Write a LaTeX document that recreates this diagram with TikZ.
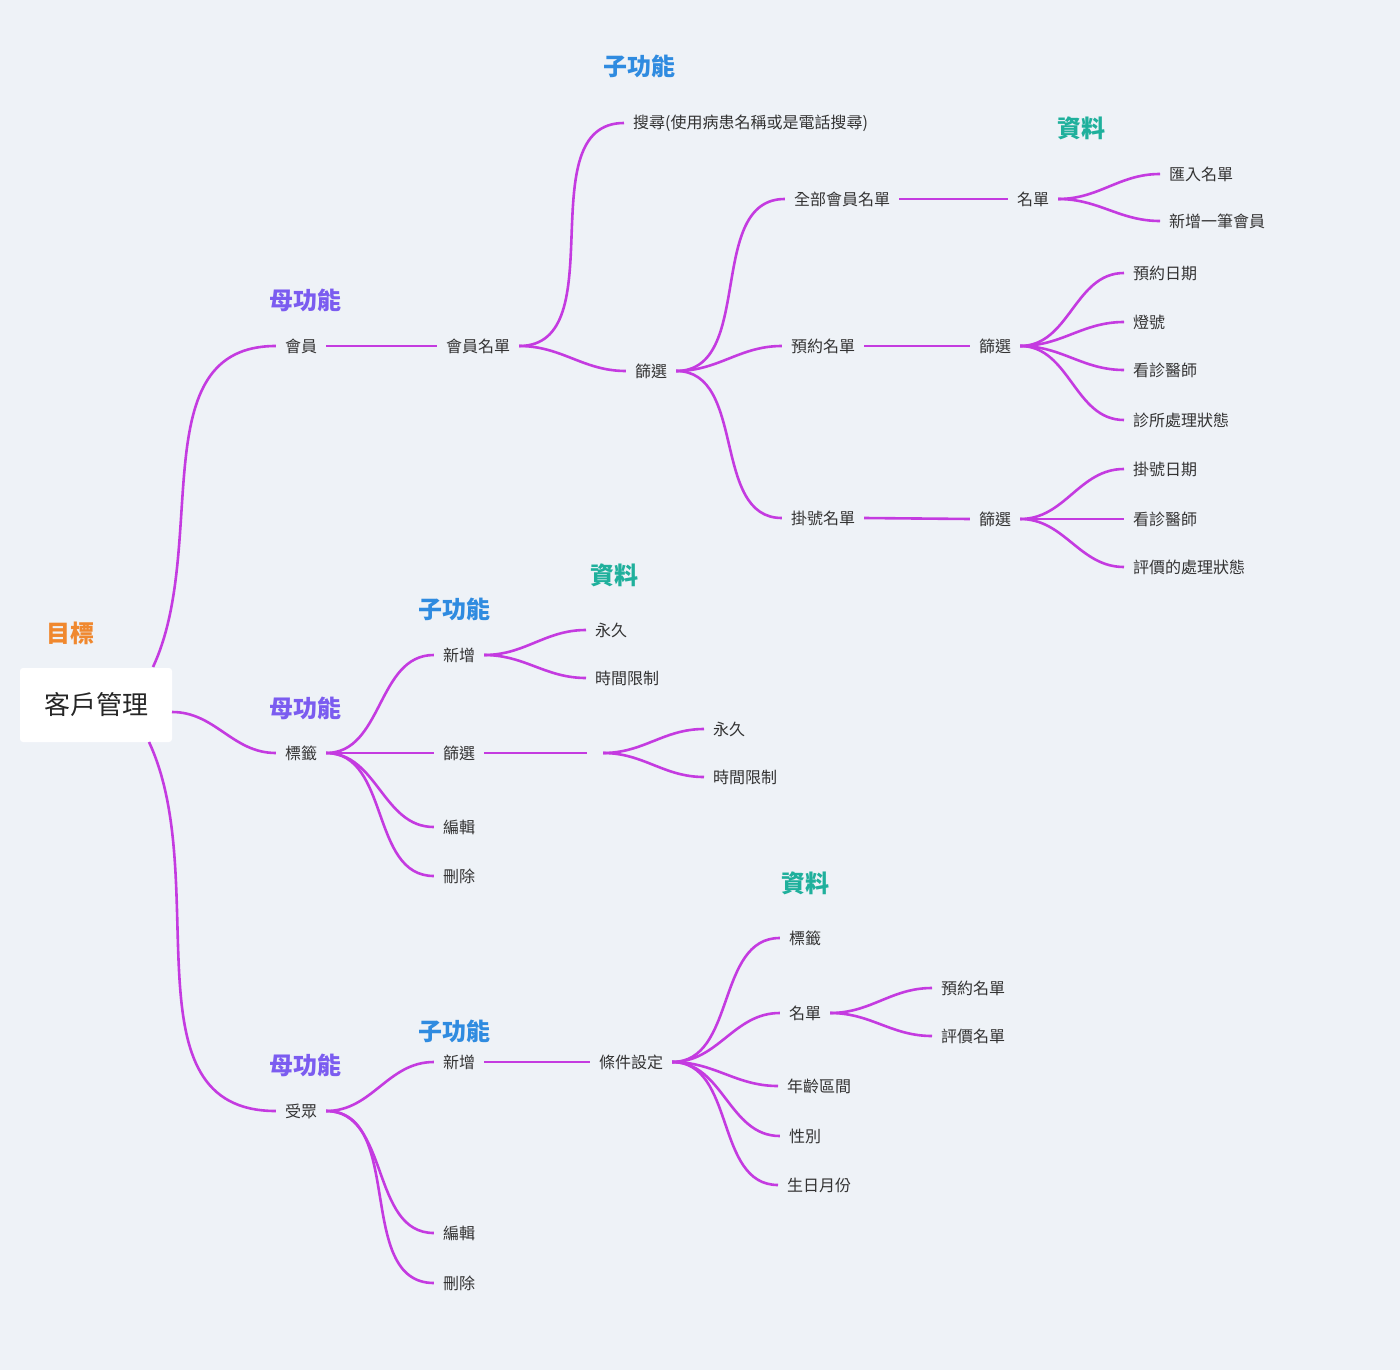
\documentclass[tikz,border=0pt]{standalone}
\usepackage{fontspec}
\setmainfont{Noto Sans CJK TC}
\begin{document}
\definecolor{bg}{HTML}{EEF2F7}
\definecolor{ln}{HTML}{C43BE0}
\definecolor{mom}{HTML}{7B5CF0}
\definecolor{sub}{HTML}{2F8BE0}
\definecolor{dat}{HTML}{1FB09C}
\definecolor{goal}{HTML}{F0882E}
\begin{tikzpicture}[x=1pt,y=-1pt,
 it/.style={inner xsep=9pt,inner ysep=2pt,font=\fontsize{16}{18}\selectfont,text=black!80},
 hd/.style={font=\fontsize{24}{26}\selectfont\bfseries},
 e/.style={draw=ln,line width=2.6pt,out=0,in=180},
 s/.style={draw=ln,line width=2.6pt}]
\fill[bg] (0,0) rectangle (1400,1370);
\node[fill=white,rounded corners=3pt,minimum width=152pt,minimum height=74pt,font=\fontsize{26}{28}\selectfont,text=black!85] (root) at (96,705) {客戶管理};
\node[hd,text=goal] (goal) at (70,633) {目標};
% member branch
\node[hd,text=mom] (h1) at (305,300) {母功能};
\node[it] (m1) at (301,346) {會員};
\node[it] (m1a) at (478,346) {會員名單};
\node[hd,text=sub] (h2) at (639,66) {子功能};
\node[it,anchor=west] (srch) at (624,123) {搜尋(使用病患名稱或是電話搜尋)};
\node[it] (f1) at (651,371) {篩選};
\node[hd,text=dat] (h3) at (1081,128) {資料};
\node[it] (all) at (842,199) {全部會員名單};
\node[it] (nm) at (1033,199) {名單};
\node[it,anchor=west] (imp) at (1160,174) {匯入名單};
\node[it,anchor=west] (add1) at (1160,221) {新增一筆會員};
\node[it] (rsv) at (823,346) {預約名單};
\node[it] (f2) at (995,346) {篩選};
\node[it,anchor=west] (r1) at (1124,273) {預約日期};
\node[it,anchor=west] (r2) at (1124,322) {燈號};
\node[it,anchor=west] (r3) at (1124,370) {看診醫師};
\node[it,anchor=west] (r4) at (1124,420) {診所處理狀態};
\node[it] (reg) at (823,518) {掛號名單};
\node[it] (f3) at (995,519) {篩選};
\node[it,anchor=west] (g1) at (1124,469) {掛號日期};
\node[it,anchor=west] (g2) at (1124,519) {看診醫師};
\node[it,anchor=west] (g3) at (1124,567) {評價的處理狀態};
% tag branch
\node[hd,text=mom] (h4) at (305,708) {母功能};
\node[it] (m2) at (301,753) {標籤};
\node[hd,text=sub] (h5) at (454,609) {子功能};
\node[hd,text=dat] (h6) at (614,575) {資料};
\node[it] (t1) at (459,655) {新增};
\node[it,anchor=west] (t1a) at (586,630) {永久};
\node[it,anchor=west] (t1b) at (586,678) {時間限制};
\node[it] (t2) at (459,753) {篩選};
\node[inner sep=0pt,minimum width=16pt] (gap) at (595,753) {};
\node[it,anchor=west] (t2a) at (704,729) {永久};
\node[it,anchor=west] (t2b) at (704,777) {時間限制};
\node[it] (t3) at (459,827) {編輯};
\node[it] (t4) at (459,876) {刪除};
% audience branch
\node[hd,text=mom] (h7) at (305,1065) {母功能};
\node[it] (m3) at (301,1111) {受眾};
\node[hd,text=sub] (h8) at (454,1031) {子功能};
\node[it] (a1) at (459,1062) {新增};
\node[it] (cond) at (631,1062) {條件設定};
\node[hd,text=dat] (h9) at (805,883) {資料};
\node[it] (c1) at (805,938) {標籤};
\node[it] (c2) at (805,1013) {名單};
\node[it,anchor=west] (c2a) at (932,988) {預約名單};
\node[it,anchor=west] (c2b) at (932,1036) {評價名單};
\node[it,anchor=west] (c3) at (778,1086) {年齡區間};
\node[it] (c4) at (805,1136) {性別};
\node[it,anchor=west] (c5) at (778,1185) {生日月份};
\node[it] (a3) at (459,1233) {編輯};
\node[it] (a4) at (459,1283) {刪除};
% connectors
\coordinate (rA) at (153,667);
\coordinate (rB) at (172,712);
\coordinate (rC) at (149,742);
\draw[s] (rA) to[out=65,in=180] (m1.west);
\draw[e] (rB) to (m2.west);
\draw[s] (rC) to[out=-65,in=180] (m3.west);
\draw[s] (m1.east) -- (m1a.west);
\draw[e] (m1a.east) to (srch.west);
\draw[e] (m1a.east) to (f1.west);
\draw[e] (f1.east) to (all.west);
\draw[e] (f1.east) to (rsv.west);
\draw[e] (f1.east) to (reg.west);
\draw[s] (all.east) -- (nm.west);
\draw[e] (nm.east) to (imp.west);
\draw[e] (nm.east) to (add1.west);
\draw[s] (rsv.east) -- (f2.west);
\foreach \n in {r1,r2,r3,r4} \draw[e] (f2.east) to (\n.west);
\draw[s] (reg.east) -- (f3.west);
\foreach \n in {g1,g2,g3} \draw[e] (f3.east) to (\n.west);
\foreach \n in {t1,t2,t3,t4} \draw[e] (m2.east) to (\n.west);
\draw[e] (t1.east) to (t1a.west);
\draw[e] (t1.east) to (t1b.west);
\draw[s] (t2.east) -- (gap.west);
\draw[e] (gap.east) to (t2a.west);
\draw[e] (gap.east) to (t2b.west);
\foreach \n in {a1,a3,a4} \draw[e] (m3.east) to (\n.west);
\draw[s] (a1.east) -- (cond.west);
\foreach \n in {c1,c2,c3,c4,c5} \draw[e] (cond.east) to (\n.west);
\draw[e] (c2.east) to (c2a.west);
\draw[e] (c2.east) to (c2b.west);
\end{tikzpicture}
\end{document}
